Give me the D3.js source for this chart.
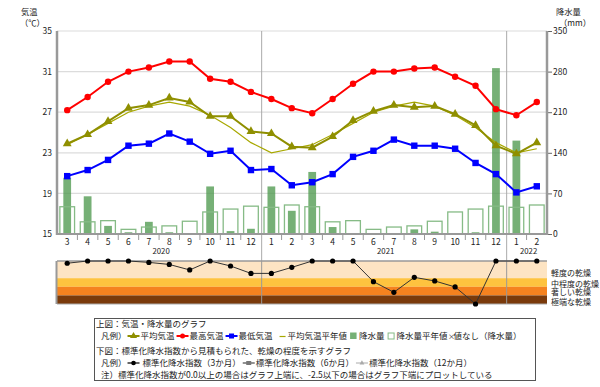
<!DOCTYPE html>
<html>
<head>
<meta charset="utf-8">
<script src="https://cdn.jsdelivr.net/npm/d3@7/dist/d3.min.js"></script>
<style>
  body { margin: 0; background: #fff; }
  svg text { font-family: "Noto Sans CJK JP", "Noto Sans", sans-serif; fill: #222; }
</style>
</head>
<body>
<div id="viz"></div>
<script>
// months from 2020-03 to 2022-02
let monthLabels = ['3','4','5','6','7','8','9','10','11','12','1','2',
                   '3','4','5','6','7','8','9','10','11','12','1','2'];
let yearLabels = ['2020', '2021', '2022'];
let yearStart = [0, 10, 22]; // index of first month of each year

let tempMax = [27.2, 28.5, 30.0, 31.0, 31.4, 32.0, 32.0, 30.3, 30.0, 29.0, 28.3, 27.4,
               26.9, 28.3, 29.8, 31.0, 31.0, 31.3, 31.4, 30.5, 29.6, 27.3, 26.7, 28.0];
let tempAvg = [23.9, 24.8, 26.1, 27.4, 27.7, 28.4, 28.0, 26.6, 26.6, 25.1, 24.9, 23.6,
               23.5, 24.6, 26.2, 27.1, 27.7, 27.5, 27.6, 26.8, 25.7, 23.7, 22.9, 24.0];
let tempAvgNormal = [23.8, 24.8, 25.9, 27.0, 27.6, 28.0, 27.6, 26.7, 25.5, 24.0, 23.0, 23.4,
                     23.8, 24.8, 25.9, 27.0, 27.6, 28.0, 27.6, 26.7, 25.5, 24.0, 23.0, 23.4];
let tempMin = [20.7, 21.3, 22.3, 23.7, 23.9, 24.9, 24.1, 22.9, 23.2, 21.3, 21.4, 19.8,
               20.1, 20.9, 22.6, 23.2, 24.3, 23.7, 23.7, 23.4, 22.0, 20.9, 19.1, 19.7];
let precip = [97, 65, 14, 3, 21, 3, 1, 82, 5, 9, 82, 40,
              107, 12, 0, 1, 1, 8, 4, 0, 3, 286, 161, 0];
let precipNormal = [47, 21, 23, 8, 12, 14, 22, 38, 43, 48, 46, 50,
                    47, 21, 23, 8, 12, 14, 22, 38, 43, 48, 46, 50];
// standardized precipitation index, 3 months
let spi3 = [-0.13, 0, 0, 0, -0.08, -0.2, -0.52, 0, -0.29, -0.72, -0.72, -0.37,
            0, 0, 0, -1.2, -1.82, -0.95, -1.16, -1.51, -2.5, 0, 0, 0];

let tempTicks = [15, 19, 23, 27, 31, 35];
let precipTicks = [0, 70, 140, 210, 280, 350];
let droughtLevels = [0, -1, -1.5, -2, -2.5];
let droughtNames = ['軽度の乾燥', '中程度の乾燥', '著しい乾燥', '極端な乾燥'];
let droughtColors = ['#fde4c3', '#fec33f', '#f5821f', '#7a3a0b'];

let W = 600, H = 387;
let plot = {left: 57, right: 547, top: 31, bottom: 234};
let panel = {top: 261, bottom: 304};

let svg = d3.select('#viz').append('svg')
    .attr('width', W).attr('height', H);

let idx = d3.range(monthLabels.length);

let x = d3.scaleBand().domain(idx).range([plot.left, plot.right]);
let bw = x.bandwidth();
let cx = i => x(i) + bw / 2;

let y = d3.scaleLinear().domain([15, 35]).range([plot.bottom, plot.top]);
let yR = d3.scaleLinear().domain([0, 350]).range([plot.bottom, plot.top]);
let yS = d3.scaleLinear().domain([-2.5, 0]).range([panel.bottom, panel.top]).clamp(true);

// gridlines
svg.append('g').selectAll('line')
    .data(tempTicks.slice(1))
    .join('line')
    .attr('x1', plot.left).attr('x2', plot.right)
    .attr('y1', d => y(d)).attr('y2', d => y(d))
    .attr('stroke', '#dcdcdc').attr('stroke-width', 1.2);

// precip bars: actual (filled) then normal (hollow)
svg.append('g').selectAll('rect')
    .data(idx)
    .join('rect')
    .attr('x', i => cx(i) - bw * 0.19)
    .attr('width', bw * 0.38)
    .attr('y', i => yR(precip[i]))
    .attr('height', i => plot.bottom - yR(precip[i]))
    .attr('fill', '#4f9a4f')
    .attr('fill-opacity', 0.78);

svg.append('g').selectAll('rect')
    .data(idx)
    .join('rect')
    .attr('x', i => cx(i) - bw * 0.36)
    .attr('width', bw * 0.72)
    .attr('y', i => yR(precipNormal[i]))
    .attr('height', i => plot.bottom - yR(precipNormal[i]))
    .attr('fill', 'none')
    .attr('stroke', '#86bb86')
    .attr('stroke-width', 1.3);

// year separators (through both panels)
svg.append('g').selectAll('line')
    .data(yearStart.slice(1))
    .join('line')
    .attr('x1', i => x(i) + 0.5).attr('x2', i => x(i) + 0.5)
    .attr('y1', plot.top).attr('y2', panel.bottom)
    .attr('stroke', '#aaa').attr('stroke-width', 1);

// temperature lines
function tempLine(values, color, width) {
    let line = d3.line().x((d, i) => cx(i)).y(d => y(d));
    svg.append('path')
        .datum(values)
        .attr('d', line)
        .attr('fill', 'none')
        .attr('stroke', color)
        .attr('stroke-width', width);
}

tempLine(tempAvgNormal, '#a8a800', 1.2);
tempLine(tempAvg, '#8f8f00', 2);
svg.append('g').selectAll('path')
    .data(idx)
    .join('path')
    .attr('d', d3.symbol(d3.symbolTriangle, 34))
    .attr('transform', i => `translate(${cx(i)},${y(tempAvg[i])})`)
    .attr('fill', '#8f8f00');

tempLine(tempMax, '#ff0000', 2);
svg.append('g').selectAll('circle')
    .data(idx)
    .join('circle')
    .attr('cx', cx).attr('cy', i => y(tempMax[i]))
    .attr('r', 3.2)
    .attr('fill', '#ff0000');

tempLine(tempMin, '#0000ff', 2);
svg.append('g').selectAll('rect')
    .data(idx)
    .join('rect')
    .attr('x', i => cx(i) - 3.2).attr('y', i => y(tempMin[i]) - 3.2)
    .attr('width', 6.4).attr('height', 6.4)
    .attr('fill', '#0000ff');

// axes
let leftAxis = svg.append('g')
    .attr('transform', `translate(${plot.left},0)`)
    .call(d3.axisLeft(y).tickValues(tempTicks).tickSize(0).tickPadding(5));
leftAxis.select('.domain').remove();

let rightAxis = svg.append('g')
    .attr('transform', `translate(${plot.right + 1},0)`)
    .call(d3.axisRight(yR).tickValues(precipTicks).tickSize(4).tickPadding(1));
rightAxis.select('.domain').remove();
rightAxis.selectAll('line').attr('stroke', '#666');

svg.selectAll('.tick text').attr('font-size', 8.5).style('font-family', '"Noto Sans CJK JP", sans-serif');

svg.append('line')
    .attr('x1', plot.left).attr('x2', plot.left)
    .attr('y1', plot.top).attr('y2', plot.bottom + 1)
    .attr('stroke', '#999').attr('stroke-width', 2.5);
svg.append('line')
    .attr('x1', plot.right).attr('x2', plot.right)
    .attr('y1', plot.top).attr('y2', plot.bottom + 1)
    .attr('stroke', '#999').attr('stroke-width', 2.5);
svg.append('line')
    .attr('x1', plot.left).attr('x2', plot.right)
    .attr('y1', plot.bottom).attr('y2', plot.bottom)
    .attr('stroke', '#999').attr('stroke-width', 2);

// month ticks and labels
svg.append('g').selectAll('line')
    .data(idx.slice(1).filter(i => !yearStart.includes(i)))
    .join('line')
    .attr('x1', i => x(i)).attr('x2', i => x(i))
    .attr('y1', plot.bottom).attr('y2', plot.bottom + 6)
    .attr('stroke', '#999');

svg.append('g').selectAll('text')
    .data(idx)
    .join('text')
    .attr('x', cx).attr('y', plot.bottom + 10.5)
    .attr('text-anchor', 'middle')
    .attr('font-size', 8.5)
    .text(i => monthLabels[i]);

svg.append('g').selectAll('text')
    .data(yearLabels)
    .join('text')
    .attr('x', (d, k) => {
        let a = x(yearStart[k]);
        let b = k + 1 < yearStart.length ? x(yearStart[k + 1]) : plot.right;
        return (a + b) / 2 + 2;
    })
    .attr('y', plot.bottom + 19.5)
    .attr('text-anchor', 'middle')
    .attr('font-size', 7.8)
    .text(d => d);

// axis titles
svg.append('text').attr('x', 21).attr('y', 15).attr('font-size', 8.3).text('気温');
svg.append('text').attr('x', 20).attr('y', 26).attr('font-size', 8.3).text('（℃）');
svg.append('text').attr('x', 556).attr('y', 14.5).attr('font-size', 8.3).text('降水量');
svg.append('text').attr('x', 559).attr('y', 25.5).attr('font-size', 8.3).text('（mm）');

// lower panel: drought bands
svg.append('g').selectAll('rect')
    .data(droughtColors)
    .join('rect')
    .attr('x', plot.left).attr('width', plot.right - plot.left)
    .attr('y', (d, k) => yS(droughtLevels[k]))
    .attr('height', (d, k) => yS(droughtLevels[k + 1]) - yS(droughtLevels[k]))
    .attr('fill', d => d);

svg.append('line')
    .attr('x1', plot.left).attr('x2', plot.right)
    .attr('y1', panel.top).attr('y2', panel.top)
    .attr('stroke', '#999').attr('stroke-width', 1.5);
svg.append('line')
    .attr('x1', plot.left).attr('x2', plot.right)
    .attr('y1', panel.bottom).attr('y2', panel.bottom)
    .attr('stroke', '#aaa').attr('stroke-width', 1);
svg.append('line')
    .attr('x1', plot.left - 0.5).attr('x2', plot.left - 0.5)
    .attr('y1', panel.top).attr('y2', panel.bottom)
    .attr('stroke', '#999').attr('stroke-width', 2);
svg.append('g').selectAll('line')
    .data(yearStart.slice(1))
    .join('line')
    .attr('x1', i => x(i) + 0.5).attr('x2', i => x(i) + 0.5)
    .attr('y1', panel.top).attr('y2', panel.bottom)
    .attr('stroke', '#999').attr('stroke-width', 1);

svg.append('path')
    .datum(spi3)
    .attr('d', d3.line().x((d, i) => cx(i)).y(d => yS(d)))
    .attr('fill', 'none')
    .attr('stroke', '#333')
    .attr('stroke-width', 1);
svg.append('g').selectAll('circle')
    .data(idx)
    .join('circle')
    .attr('cx', cx).attr('cy', i => yS(spi3[i]))
    .attr('r', 2.6)
    .attr('fill', '#000');

let droughtLabelY = [273, 283.5, 291.5, 301.5];
svg.append('g').selectAll('text')
    .data(droughtNames)
    .join('text')
    .attr('x', 551)
    .attr('y', (d, k) => droughtLabelY[k] + 3)
    .attr('font-size', 8)
    .text(d => d);

// legend box
let lg = svg.append('g');
lg.append('rect')
    .attr('x', 94.5).attr('y', 318.5).attr('width', 441).attr('height', 62)
    .attr('fill', '#fff').attr('stroke', '#555').attr('stroke-width', 1);

let fs = 8.5;

// lay out a legend row left to right: strings are texts, objects are symbols
function flowRow(startX, baseY, items) {
    let cur = startX;
    items.forEach(it => {
        if (typeof it === 'string') {
            let t = lg.append('text').attr('x', cur).attr('y', baseY)
                .attr('font-size', fs).text(it);
            cur += t.node().getComputedTextLength();
        } else if (it.gap) {
            cur += it.gap;
        } else {
            it.draw(cur, baseY - 3);
            cur += it.w;
        }
    });
}

let symLine = (color, width, marker) => ({
    w: 14,
    draw: (x0, yc) => {
        lg.append('line').attr('x1', x0 + 1).attr('x2', x0 + 13).attr('y1', yc).attr('y2', yc)
            .attr('stroke', color).attr('stroke-width', width);
        if (marker) marker(x0 + 7, yc);
    }
});

lg.append('text').attr('x', 96).attr('y', 327).attr('font-size', fs).text('上図：気温・降水量のグラフ');
flowRow(101, 339, [
    '凡例）',
    symLine('#8f8f00', 2, (mx, my) => lg.append('path').attr('d', d3.symbol(d3.symbolTriangle, 22))
        .attr('transform', `translate(${mx},${my})`).attr('fill', '#8f8f00')),
    '平均気温', {gap: 1},
    symLine('#ff0000', 2, (mx, my) => lg.append('circle').attr('cx', mx).attr('cy', my)
        .attr('r', 2.5).attr('fill', '#ff0000')),
    '最高気温', {gap: 1},
    symLine('#0000ff', 2, (mx, my) => lg.append('rect').attr('x', mx - 2.5).attr('y', my - 2.5)
        .attr('width', 5).attr('height', 5).attr('fill', '#0000ff')),
    '最低気温', {gap: 6},
    {w: 9, draw: (x0, yc) => lg.append('line').attr('x1', x0 + 1).attr('x2', x0 + 7)
        .attr('y1', yc + 0.5).attr('y2', yc + 0.5).attr('stroke', '#a8a800').attr('stroke-width', 1.2)},
    '平均気温平年値', {gap: 3},
    {w: 9, draw: (x0, yc) => lg.append('rect').attr('x', x0).attr('y', yc - 3.5)
        .attr('width', 6.5).attr('height', 6.5).attr('fill', '#4f9a4f').attr('fill-opacity', 0.78)},
    '降水量', {gap: 3},
    {w: 9, draw: (x0, yc) => lg.append('rect').attr('x', x0 + 0.5).attr('y', yc - 3)
        .attr('width', 6).attr('height', 6).attr('fill', 'none').attr('stroke', '#86bb86')},
    '降水量平年値',
    {w: 6, draw: (x0, yc) => lg.append('text').attr('x', x0 + 0.5).attr('y', yc + 3)
        .attr('font-size', 7).text('×')},
    '値なし（降水量）'
]);

lg.append('text').attr('x', 96).attr('y', 354).attr('font-size', fs)
    .text('下図：標準化降水指数から見積もられた、乾燥の程度を示すグラフ');
flowRow(101, 366, [
    '凡例）',
    symLine('#000', 1.2, (mx, my) => lg.append('circle').attr('cx', mx).attr('cy', my)
        .attr('r', 2.3).attr('fill', '#000')),
    {gap: 2}, '標準化降水指数（3か月）', {gap: 1},
    symLine('#777', 1.6, (mx, my) => lg.append('rect').attr('x', mx - 2.5).attr('y', my - 2)
        .attr('width', 5).attr('height', 4).attr('fill', '#777')),
    '標準化降水指数（6か月）', {gap: 1},
    symLine('#aaa', 1, (mx, my) => lg.append('path').attr('d', d3.symbol(d3.symbolTriangle, 10))
        .attr('transform', `translate(${mx},${my})`).attr('fill', '#aaa')),
    '標準化降水指数（12か月）'
]);

lg.append('text').attr('x', 101).attr('y', 378).attr('font-size', fs)
    .text('注）標準化降水指数が0.0以上の場合はグラフ上端に、-2.5以下の場合はグラフ下端にプロットしている');
</script>
</body>
</html>
